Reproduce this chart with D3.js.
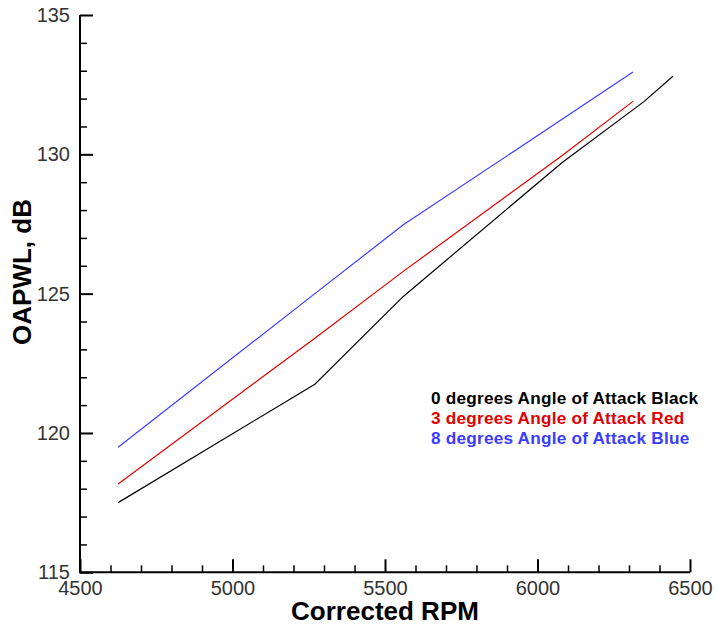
<!DOCTYPE html>
<html>
<head>
<meta charset="utf-8">
<script src="https://cdn.jsdelivr.net/npm/d3@7"></script>
<style>
  html, body { margin: 0; padding: 0; background: #fff; }
  svg { display: block; }
</style>
</head>
<body>
<svg id="chart" width="717" height="626"></svg>
<script>
// ---- data ----
const rpm0 = [4625, 5270, 5560, 6080, 6350, 6444];
const oapwl0 = [117.5, 121.75, 124.9, 129.7, 131.9, 132.8];
const rpm3 = [4625, 5270, 5560, 6080, 6313];
const oapwl3 = [118.17, 123.4, 125.8, 129.95, 131.9];
const rpm8 = [4625, 5270, 5560, 6313];
const oapwl8 = [119.49, 125.0, 127.47, 132.95];
const seriesNames = ["0 degrees Angle of Attack Black", "3 degrees Angle of Attack Red", "8 degrees Angle of Attack Blue"];
const seriesColors = ["#000000", "#e00000", "#3c3cff"];
const xMajor = [4500, 5000, 5500, 6000, 6500];
const yMajor = [115, 120, 125, 130, 135];
const xTitle = "Corrected RPM";
const yTitle = "OAPWL, dB";

const svg = d3.select("#chart");
const x = d3.scaleLinear().domain([4500, 6500]).range([80, 690]);
const y = d3.scaleLinear().domain([115, 135]).range([572.3, 15]);

const xMinor = d3.range(4500, 6501, 100).filter(v => v % 500 !== 0);
const yMinor = d3.range(115, 135.01, 1).filter(v => v % 5 !== 0);

const font = "'Liberation Sans', Arial, Helvetica, sans-serif";

// ticks (pointing inward)
const gyMinor = svg.append("g").attr("transform", "translate(80,0)")
  .call(d3.axisRight(y).tickValues(yMinor).tickSize(7).tickFormat(""));
const gyMajor = svg.append("g").attr("transform", "translate(80,0)")
  .call(d3.axisRight(y).tickValues(yMajor).tickSize(13).tickFormat(""));
const gxMinor = svg.append("g").attr("transform", `translate(0,${y(115)})`)
  .call(d3.axisTop(x).tickValues(xMinor).tickSize(7).tickFormat(""));
const gxMajor = svg.append("g").attr("transform", `translate(0,${y(115)})`)
  .call(d3.axisTop(x).tickValues(xMajor).tickSize(13).tickFormat(""));
[gyMinor, gyMajor, gxMinor, gxMajor].forEach(g => g.select(".domain").remove());
gyMinor.selectAll("line").attr("stroke", "#000").attr("stroke-width", 1.5);
gxMinor.selectAll("line").attr("stroke", "#000").attr("stroke-width", 1.5);
gyMajor.selectAll("line").attr("stroke", "#000").attr("stroke-width", 2);
gxMajor.selectAll("line").attr("stroke", "#000").attr("stroke-width", 2);

// tick labels
const gyLab = svg.append("g").attr("transform", "translate(80,0)")
  .call(d3.axisLeft(y).tickValues(yMajor).tickSize(0).tickPadding(10).tickFormat(d3.format("d")));
gyLab.select(".domain").remove();
gyLab.selectAll("text").attr("font-family", font).attr("font-size", 20).attr("fill", "#333");

const gxLab = svg.append("g").attr("transform", `translate(0,${y(115)})`)
  .call(d3.axisBottom(x).tickValues(xMajor).tickSize(0).tickPadding(9).tickFormat(d3.format("d")));
gxLab.select(".domain").remove();
gxLab.selectAll("text").attr("font-family", font).attr("font-size", 20).attr("fill", "#333");

// axis lines
svg.append("line").attr("x1", x(4500)).attr("x2", x(4500)).attr("y1", y(135)).attr("y2", y(115))
  .attr("stroke", "#000").attr("stroke-width", 2);
svg.append("line").attr("x1", x(4500) - 1).attr("x2", x(6500)).attr("y1", y(115)).attr("y2", y(115))
  .attr("stroke", "#000").attr("stroke-width", 2);

// series
const series = [
  {xs: rpm0, ys: oapwl0},
  {xs: rpm3, ys: oapwl3},
  {xs: rpm8, ys: oapwl8}
];
const line = d3.line().x(d => x(d[0])).y(d => y(d[1]));
series.forEach((s, i) => {
  const pts = s.xs.map((v, j) => [v, s.ys[j]]);
  svg.append("path").datum(pts).attr("d", line)
    .attr("fill", "none").attr("stroke", seriesColors[i]).attr("stroke-width", 1.2);
});

// legend
seriesNames.forEach((n, i) => {
  svg.append("text").attr("x", 431).attr("y", 403.5 + i * 20.3)
    .attr("font-family", font).attr("font-weight", "bold").attr("font-size", 17.2)
    .attr("letter-spacing", 0.22)
    .attr("fill", seriesColors[i]).text(n);
});

// axis titles
svg.append("text").attr("x", 385).attr("y", 620).attr("text-anchor", "middle")
  .attr("font-family", font).attr("font-weight", "bold").attr("font-size", 26).text(xTitle);
svg.append("text").attr("transform", "translate(31,272) rotate(-90)").attr("text-anchor", "middle")
  .attr("font-family", font).attr("font-weight", "bold").attr("font-size", 26).text(yTitle);
</script>
</body>
</html>
